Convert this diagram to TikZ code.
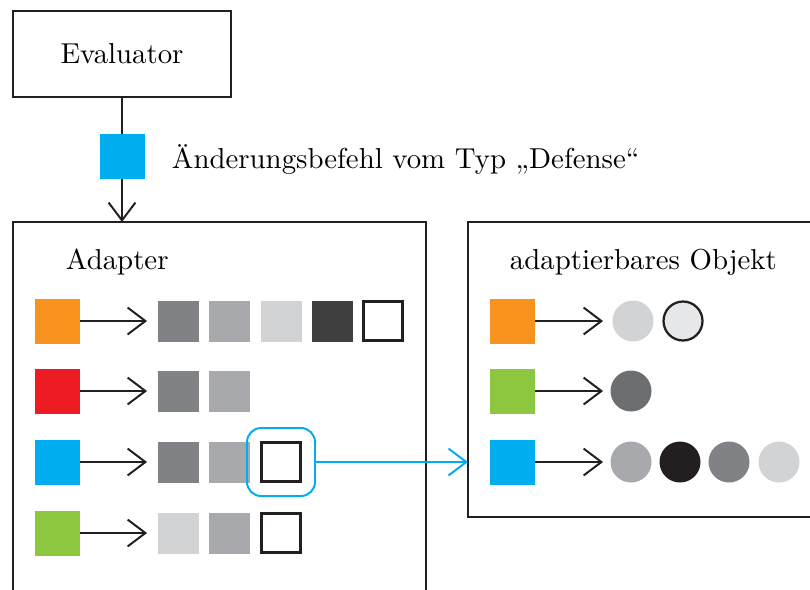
\documentclass[tikz,border=0pt]{standalone}
\usepackage{fontspec}
\usetikzlibrary{arrows.meta}
\definecolor{cOrange}{HTML}{F7931E}
\definecolor{cRed}{HTML}{ED1C24}
\definecolor{cBlue}{HTML}{00AEEF}
\definecolor{cGreen}{HTML}{8DC63F}
\definecolor{gA}{HTML}{808285}
\definecolor{gB}{HTML}{A7A9AC}
\definecolor{gC}{HTML}{D1D3D4}
\definecolor{gD}{HTML}{404041}
\definecolor{gE}{HTML}{E6E7E8}
\definecolor{gF}{HTML}{6D6E71}
\definecolor{gK}{HTML}{231F20}
\definecolor{lineK}{HTML}{231F20}
\def\u{0.354pt}
\tikzset{
  x=\u, y=-\u,
  every node/.style={font=\fontsize{10.2pt}{12pt}\selectfont},
  frame/.style={draw=lineK, line width=0.7pt},
  key/.style={rectangle, inner sep=0pt, minimum size=45*\u, fill=#1},
  val/.style={rectangle, inner sep=0pt, minimum size=41*\u, fill=#1},
  valo/.style={rectangle, inner sep=0pt, minimum size=39*\u, fill=white, draw=lineK, line width=0.85pt},
  dot/.style={circle, inner sep=0pt, minimum size=41*\u, fill=#1},
  doto/.style={circle, inner sep=0pt, minimum size=39*\u, fill=#1, draw=lineK, line width=0.8pt},
  arr/.style={draw=lineK, line width=0.7pt, -{Straight Barb[length=6.3pt,width=9.5pt]}},
  barr/.style={draw=cBlue, line width=0.7pt, -{Straight Barb[length=6.3pt,width=9.5pt]}},
}
\begin{document}
\begin{tikzpicture}
\useasboundingbox (0,0) rectangle (810,589);
% Evaluator
\node[frame, rectangle, minimum width=218*\u, minimum height=86*\u, inner sep=0pt] (eval) at (122,54) {Evaluator};
% Adapter frame (open bottom)
\coordinate (adTop) at (122,222);
\draw[frame] (13,600) -- (13,222) -- (426,222) -- (426,600);
\node[anchor=west] (adlabel) at (56,262) {Adapter};
% command
\draw[arr] (eval.south) -- (adTop);
\node[key=cBlue] (cmd) at (122,156) {};
\node[anchor=west] (cmdtext) at (162,159) {Änderungsbefehl vom Typ „Defense“};
% Adapter rows
\node[key=cOrange] (a1) at (57,321) {};
\node[key=cRed] (a2) at (57,391) {};
\node[key=cBlue] (a3) at (57,462) {};
\node[key=cGreen] (a4) at (57,533) {};
% row 1
\node[val=gA] (v11) at (178,321) {};
\node[val=gB] (v12) at (229,321) {};
\node[val=gC] (v13) at (281,321) {};
\node[val=gD] (v14) at (332,321) {};
\node[valo] (v15) at (383,321) {};
% row 2
\node[val=gA] (v21) at (178,391) {};
\node[val=gB] (v22) at (229,391) {};
% row 3
\node[val=gA] (v31) at (178,462) {};
\node[val=gB] (v32) at (229,462) {};
\node[valo] (v33) at (281,462) {};
\node[draw=cBlue, line width=0.7pt, rounded corners=5pt, inner sep=0pt, minimum size=68*\u] (sel) at (281,462) {};
% row 4
\node[val=gC] (v41) at (178,533) {};
\node[val=gB] (v42) at (229,533) {};
\node[valo] (v43) at (281,533) {};
% row arrows
\foreach \i in {1,2,3,4}{
  \draw[arr] (a\i.east) -- ++(67,0);
}
% Object frame
\draw[frame] (815,222) -- (468,222) -- (468,517) -- (815,517);
\coordinate (objIn) at (468,462);
\node[anchor=west] (oblabel) at (500,262) {adaptierbares Objekt};
\node[key=cOrange] (o1) at (512,321) {};
\node[key=cGreen] (o2) at (512,391) {};
\node[key=cBlue] (o3) at (512,462) {};
\foreach \i in {1,2,3}{
  \draw[arr] (o\i.east) -- ++(68,0);
}
\node[dot=gC] (c11) at (633,321) {};
\node[doto=gE] (c12) at (683,321) {};
\node[dot=gF] (c21) at (631,391) {};
\node[dot=gB] (c31) at (631,462) {};
\node[dot=gK] (c32) at (680,462) {};
\node[dot=gA] (c33) at (729,462) {};
\node[dot=gC] (c34) at (779,462) {};
% blue connector
\draw[barr] (sel.east) -- (objIn);
\end{tikzpicture}
\end{document}
